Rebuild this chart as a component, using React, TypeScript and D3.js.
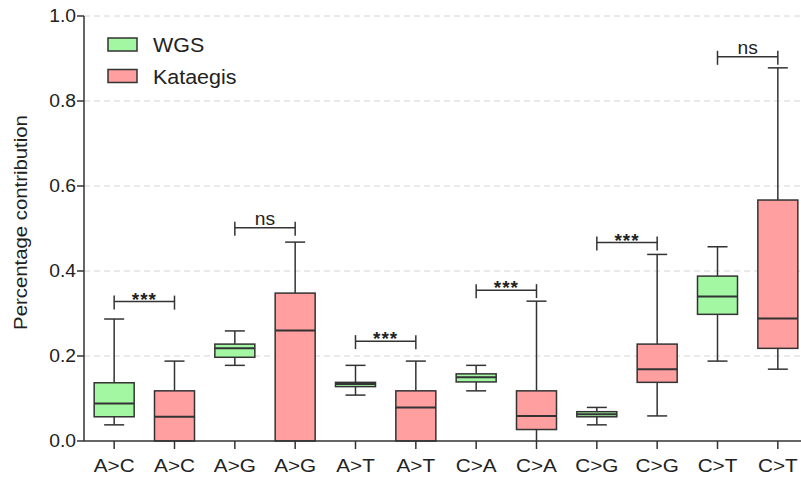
import React from "react";
import * as d3 from "d3";

const categories = ["A>C", "A>C", "A>G", "A>G", "A>T", "A>T", "C>A", "C>A", "C>G", "C>G", "C>T", "C>T"];
const groups = ["WGS", "Kataegis", "WGS", "Kataegis", "WGS", "Kataegis", "WGS", "Kataegis", "WGS", "Kataegis", "WGS", "Kataegis"];
const mins = [0.038, 0.0, 0.178, 0.0, 0.108, 0.0, 0.118, 0.0, 0.038, 0.059, 0.188, 0.169];
const q1s = [0.057, 0.0, 0.197, 0.0, 0.128, 0.0, 0.139, 0.027, 0.057, 0.138, 0.298, 0.218];
const medians = [0.088, 0.057, 0.218, 0.26, 0.134, 0.079, 0.15, 0.059, 0.063, 0.169, 0.34, 0.288];
const q3s = [0.137, 0.118, 0.228, 0.348, 0.138, 0.118, 0.158, 0.118, 0.069, 0.228, 0.388, 0.567];
const maxs = [0.287, 0.188, 0.259, 0.468, 0.178, 0.188, 0.178, 0.329, 0.079, 0.439, 0.457, 0.878];

const sigFrom = [0, 2, 4, 6, 8, 10];
const sigLabels = ["***", "ns", "***", "***", "***", "ns"];
const sigY = [0.328, 0.502, 0.235, 0.355, 0.467, 0.904];

const yTicks = [0.0, 0.2, 0.4, 0.6, 0.8, 1.0];
const legendItems = ["WGS", "Kataegis"];

const colors: Record<string, string> = { WGS: "#a3f7a3", Kataegis: "#ff9f9f" };
const stroke = "#333";
const font = "'Liberation Sans', Arial, Helvetica, sans-serif";

export default function App() {
  const W = 801, H = 480;
  const x0 = 84, yTop = 16, yBot = 441;
  const y = d3.scaleLinear().domain([0, 1]).range([yBot, yTop]);
  const idx = categories.map((_, i) => String(i));
  const x = d3.scaleBand().domain(idx).range([x0, 808]).padding(0);
  const cx = (i: number) => (x(String(i)) as number) + x.bandwidth() / 2;
  const boxW = 40;
  const capW = 20;

  return (
    <svg width={W} height={H} style={{ position: "absolute", left: 0, top: 0, background: "#fff" }} fontFamily={font}>
      {/* grid */}
      {yTicks.filter((t) => t > 0).map((t) => (
        <line key={"g" + t} x1={x0} x2={W} y1={y(t)} y2={y(t)} stroke="#d4d4d4" strokeWidth={1} strokeDasharray="6,4" />
      ))}
      {/* boxes */}
      {categories.map((c, i) => {
        const X = cx(i);
        const fill = colors[groups[i]];
        return (
          <g key={"b" + i}>
            {maxs[i] > q3s[i] && <line x1={X} x2={X} y1={y(q3s[i])} y2={y(maxs[i])} stroke={stroke} strokeWidth={1.5} />}
            {maxs[i] > q3s[i] && <line x1={X - capW / 2} x2={X + capW / 2} y1={y(maxs[i])} y2={y(maxs[i])} stroke={stroke} strokeWidth={1.5} />}
            {q1s[i] > mins[i] && <line x1={X} x2={X} y1={y(mins[i])} y2={y(q1s[i])} stroke={stroke} strokeWidth={1.5} />}
            {q1s[i] > mins[i] && mins[i] > 0 && <line x1={X - capW / 2} x2={X + capW / 2} y1={y(mins[i])} y2={y(mins[i])} stroke={stroke} strokeWidth={1.5} />}
            <rect x={X - boxW / 2} width={boxW} y={y(q3s[i])} height={y(q1s[i]) - y(q3s[i])} fill={fill} stroke={stroke} strokeWidth={1.5} />
            <line x1={X - boxW / 2} x2={X + boxW / 2} y1={y(medians[i])} y2={y(medians[i])} stroke={stroke} strokeWidth={2} />
          </g>
        );
      })}
      {/* axes */}
      <line x1={x0} x2={x0} y1={yTop} y2={yBot} stroke={stroke} strokeWidth={1.5} />
      <line x1={x0} x2={W} y1={yBot} y2={yBot} stroke={stroke} strokeWidth={1.5} />
      {yTicks.map((t) => (
        <g key={"yt" + t}>
          <line x1={x0 - 7} x2={x0} y1={y(t)} y2={y(t)} stroke={stroke} strokeWidth={1.5} />
          <text transform={`translate(${x0 - 8},${y(t)}) scale(1.07,1)`} dy="0.36em" textAnchor="end" fontSize={18} fill="#222">
            {d3.format(".1f")(t)}
          </text>
        </g>
      ))}
      {categories.map((c, i) => (
        <g key={"xt" + i}>
          <line x1={cx(i)} x2={cx(i)} y1={yBot} y2={yBot + 8} stroke={stroke} strokeWidth={1.5} />
          <text transform={`translate(${cx(i)},472) scale(1.12,1)`} textAnchor="middle" fontSize={18.5} fill="#222">{c}</text>
        </g>
      ))}
      <text transform={`translate(27,${222.5}) rotate(-90) scale(1.1,1)`} textAnchor="middle" fontSize={18.5} fill="#222">
        Percentage contribution
      </text>
      {/* significance */}
      {sigFrom.map((a, k) => {
        const x1 = cx(a), x2 = cx(a + 1), yy = y(sigY[k]);
        return (
          <g key={"s" + k}>
            <line x1={x1} x2={x2} y1={yy} y2={yy} stroke={stroke} strokeWidth={1.5} />
            <line x1={x1} x2={x1} y1={yy - 6} y2={yy + 8} stroke={stroke} strokeWidth={1.5} />
            <line x1={x2} x2={x2} y1={yy - 6} y2={yy + 8} stroke={stroke} strokeWidth={1.5} />
            {sigLabels[k] === "ns" ? (
              <text transform={`translate(${(x1 + x2) / 2},${yy - 3}) scale(1.1,1)`} textAnchor="middle" fontSize={17.5} fill="#222">ns</text>
            ) : (
              <text x={(x1 + x2) / 2} y={yy + 4} textAnchor="middle" fontSize={19} fontWeight="bold" fill="#222" letterSpacing={1}>***</text>
            )}
          </g>
        );
      })}
      {/* legend */}
      {legendItems.map((g, k) => (
        <g key={"l" + g} transform={`translate(108,${38 + k * 31.5})`}>
          <rect x={0} y={0} width={29} height={13} fill={colors[g]} stroke={stroke} strokeWidth={1.5} />
          <text transform="translate(45,14) scale(1.1,1)" fontSize={19.5} fill="#222">{g}</text>
        </g>
      ))}
    </svg>
  );
}
